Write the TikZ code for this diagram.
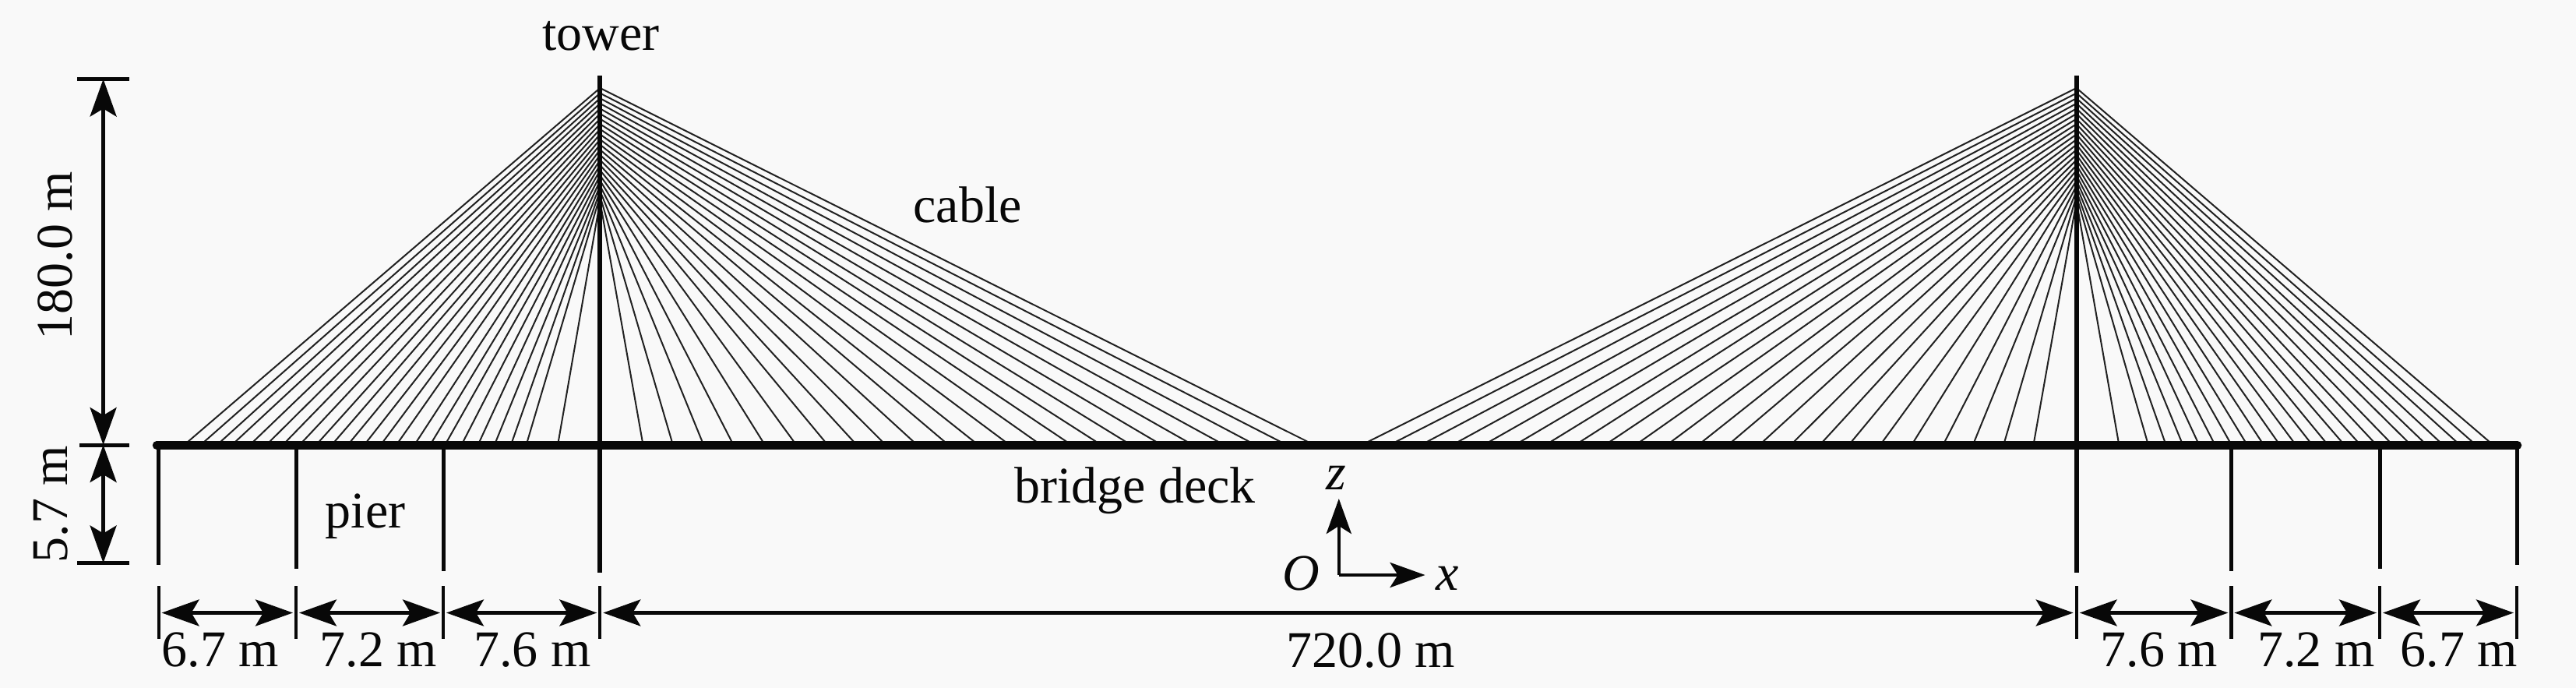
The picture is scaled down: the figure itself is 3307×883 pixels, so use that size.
\documentclass[tikz,border=0pt]{standalone}
\usepackage{fontspec}
\setmainfont{Liberation Serif}
\usetikzlibrary{arrows.meta}
\definecolor{paper}{HTML}{F9F9F9}
\definecolor{ink}{HTML}{080808}
\tikzset{
  lbl/.style={inner sep=0pt,outer sep=0pt,anchor=base,text=ink,font=\fontsize{66}{70}\selectfont},
  ilbl/.style={lbl,font=\fontsize{66}{70}\selectfont\itshape},
  deckline/.style={draw=ink,line width=10.5pt,line cap=round},
  pierline/.style={draw=ink,line width=5pt},
  towerline/.style={draw=ink,line width=6pt},
  cableline/.style={draw=ink!90,line width=2pt},
  tickline/.style={draw=ink,line width=4.2pt},
  extline/.style={draw=ink,line width=5pt},
  dimline/.style={draw=ink,line width=4.4pt,{Stealth[length=48pt,width=34pt,inset=10pt]}-{Stealth[length=48pt,width=34pt,inset=10pt]}},
  axisline/.style={draw=ink,line width=4.4pt,line cap=butt,-{Stealth[length=45pt,width=32pt,inset=10pt]}}
}
\begin{document}
\begin{tikzpicture}[x=1pt,y=-1pt]
\path[use as bounding box,fill=paper] (0,0) rectangle (3307,883);
% key points
\coordinate (deckL) at (201,571.5);
\coordinate (deckR) at (3232,571.5);
\foreach \n/\x/\b in {p1/203.6/725,p2/380/730,p3/569/733,t1/770.3/735,t2/2665.7/735,p4/2864.4/733,p5/3055/730,p6/3231/725}{
  \coordinate (\n top) at (\x,571.5);
  \coordinate (\n bot) at (\x,\b);
  \coordinate (\n dimt) at (\x,752);
  \coordinate (\n dimb) at (\x,820);
  \coordinate (\n dim) at (\x,786.5);
}
\coordinate (t1peak) at (770.3,97);
\coordinate (t2peak) at (2665.7,97);
% anchors on the towers
\foreach \i in {0,...,22}{
  \pgfmathsetmacro{\ya}{113+6.6*\i}
  \coordinate (a\i) at (770.3,\ya);
  \coordinate (b\i) at (2665.7,\ya);
}
% cables
\foreach \x [count=\i from 0] in {240,261,282,301,324,345,366,387.5,408.6,428.5,449,470,491,511,534,554,573,594,615,636,657,676.5,716.6}{
  \coordinate (c1\i) at (\x,568);
  \draw[cableline] (a\i) -- (c1\i);
}
\foreach \x [count=\i from 0] in {1681,1646,1606,1566,1526,1486,1447,1409,1371,1332,1292,1252,1214,1174,1134,1097,1060,1020,980,940,902,863,825}{
  \coordinate (c2\i) at (\x,568);
  \draw[cableline] (a\i) -- (c2\i);
}
\foreach \x [count=\i from 0] in {1754,1790,1830,1870,1910,1950,1989,2027,2065,2104,2144,2184,2222,2262,2302,2339,2376,2416,2456,2496,2534,2573,2611}{
  \coordinate (c3\i) at (\x,568);
  \draw[cableline] (b\i) -- (c3\i);
}
\foreach \x [count=\i from 0] in {3197,3175,3154.6,3133,3112,3092,3068.7,3048,3027.5,3007,2986,2966,2945,2924.6,2904,2883,2863,2842,2821.7,2801,2779.5,2757,2719.8}{
  \coordinate (c4\i) at (\x,568);
  \draw[cableline] (b\i) -- (c4\i);
}
% structure
\draw[towerline] (t1peak) -- (t1bot);
\draw[towerline] (t2peak) -- (t2bot);
\foreach \n in {p1,p2,p3,p4,p5,p6}{ \draw[pierline] (\n top) -- (\n bot); }
\draw[deckline] (deckL) -- (deckR);
% bottom dimensions
\foreach \n in {p1,p2,p3,t1,t2,p4,p5,p6}{ \draw[tickline] (\n dimt) -- (\n dimb); }
\foreach \a/\b in {p1/p2,p2/p3,p3/t1,t1/t2,t2/p4,p4/p5,p5/p6}{
  \draw[dimline,shorten <=4pt,shorten >=4pt] (\a dim) -- (\b dim);
}
% left dimensions
\coordinate (v1a) at (99,101.5);   \coordinate (v1b) at (166,101.5);
\coordinate (v2a) at (102,571);    \coordinate (v2b) at (166,571);
\coordinate (v3a) at (99,722.5);   \coordinate (v3b) at (166,722.5);
\coordinate (vtop) at (132.6,101.5);
\coordinate (vmid) at (132.6,571);
\coordinate (vbot) at (132.6,722.5);
\draw[extline] (v1a) -- (v1b);
\draw[extline] (v2a) -- (v2b);
\draw[extline] (v3a) -- (v3b);
\draw[dimline] (vtop) -- (vmid);
\draw[dimline] (vmid) -- (vbot);
% axes
\coordinate (origin) at (1718.8,738);
\coordinate (ztip) at (1718.8,640);
\coordinate (xtip) at (1829.5,738);
\draw[axisline] (origin) -- (ztip);
\draw[axisline] (origin) -- (xtip);
% labels
\node[lbl] (ltower) at (771.5,65) {tower};
\node[lbl] (lcable) at (1242,285) {cable};
\node[lbl] (lpier) at (469,677) {pier};
\node[lbl] (ldeck) at (1457,645) {bridge deck};
\node[ilbl] (lz) at (1715.6,628) {z};
\node[ilbl] (lO) at (1670,757) {O};
\node[ilbl] (lx) at (1858.5,757) {x};
\node[lbl] (d1) at (283,855) {6.7 m};
\node[lbl] (d2) at (486,855) {7.2 m};
\node[lbl] (d3) at (683.5,855) {7.6 m};
\node[lbl] (d4) at (1760,856) {720.0 m};
\node[lbl] (d5) at (2772,855) {7.6 m};
\node[lbl] (d6) at (2973.5,855) {7.2 m};
\node[lbl] (d7) at (3157,855) {6.7 m};
\node[lbl,rotate=90] (h1) at (92.5,328) {180.0 m};
\node[lbl,rotate=90] (h2) at (86,647) {5.7 m};
\end{tikzpicture}
\end{document}
